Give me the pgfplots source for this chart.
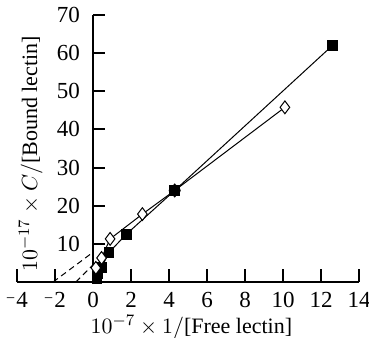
\documentclass[border=0pt]{standalone}
\usepackage{pgfplots}
\pgfplotsset{compat=1.18}
\usepackage{fontspec}
\setmainfont{Liberation Serif}
\newcommand{\rmin}{\raisebox{0.35ex}{\fontsize{8}{9}\selectfont −}\kern0.5pt}
\begin{document}
\begin{tikzpicture}
\begin{axis}[
  scale only axis,
  width=171pt, height=133.5pt,
  xmin=-4, xmax=14, ymin=0, ymax=70,
  axis x line=bottom,
  axis y line=middle,
  axis line style={line width=1pt,-},
  xtick style={draw=none},
  ytick style={black, line width=1pt, xshift=3pt},
  major tick length=6pt,
  ytick align=center,
  hide obscured x ticks=false,
  hide obscured y ticks=false,
  xtick={-4,-2,0,2,4,6,8,10,12,14},
  xticklabels={\rmin4,\rmin2,0,2,4,6,8,10,12,14},
  ytick={10,20,30,40,50,60,70},
  font=\fontsize{11}{13}\selectfont,
  tick label style={font=\fontsize{11.5}{13}\selectfont},
  /pgf/number format/assume math mode=true,
  xticklabel style={anchor=north, yshift=1.5pt},
  yticklabel style={anchor=east, xshift=0pt},
  xlabel={$10^{-7}\times 1/$[Free lectin]},
  ylabel={$10^{-17}\times C/$[Bound lectin]},
  xlabel style={at={(axis description cs:0.51,-0.17)}, anchor=center},
  ylabel style={at={(axis description cs:0.04,0.48)}, anchor=center, rotate=90},
  clip=false,
]
% upward x ticks, one short vertical segment per tick value
\addplot[black, line width=1.1pt] coordinates {(-4,0) (-4,3.4)};
\addplot[black, line width=1.1pt] coordinates {(-2,0) (-2,3.4)};
\addplot[black, line width=1.1pt] coordinates {(2,0) (2,3.4)};
\addplot[black, line width=1.1pt] coordinates {(4,0) (4,3.4)};
\addplot[black, line width=1.1pt] coordinates {(6,0) (6,3.4)};
\addplot[black, line width=1.1pt] coordinates {(8,0) (8,3.4)};
\addplot[black, line width=1.1pt] coordinates {(10,0) (10,3.4)};
\addplot[black, line width=1.1pt] coordinates {(12,0) (12,3.4)};
\addplot[black, line width=1.1pt] coordinates {(14,0) (14,3.4)};
\addplot[black, line width=0.5pt, densely dashed] coordinates {(-2.1,0) (0,7.8)};
\addplot[black, line width=0.5pt, densely dashed] coordinates {(-0.9,0) (0,4.5)};
\addplot[black, line width=0.5pt, mark=square*, mark size=2.4pt, mark options={solid, fill=black}]
  coordinates {(0.2,0.8) (0.25,2.2) (0.45,3.8) (0.85,7.8) (1.75,12.5) (4.3,24) (12.6,62)};
\addplot[black, line width=0.5pt, mark=diamond*, mark size=3.2pt, mark options={solid, fill=white}]
  coordinates {(0.15,3.7) (0.45,6.3) (0.9,11.3) (2.6,17.8) (4.3,24) (10.1,45.8)};
\addplot[only marks, black, mark=*, mark size=2.8pt] coordinates {(4.3,24)};
\end{axis}
\pgfresetboundingbox
\path[use as bounding box] ([shift={(-8.5pt,-27.5pt)}]current axis.south west) rectangle ([shift={(176pt,141pt)}]current axis.south west);
\end{tikzpicture}
\end{document}
